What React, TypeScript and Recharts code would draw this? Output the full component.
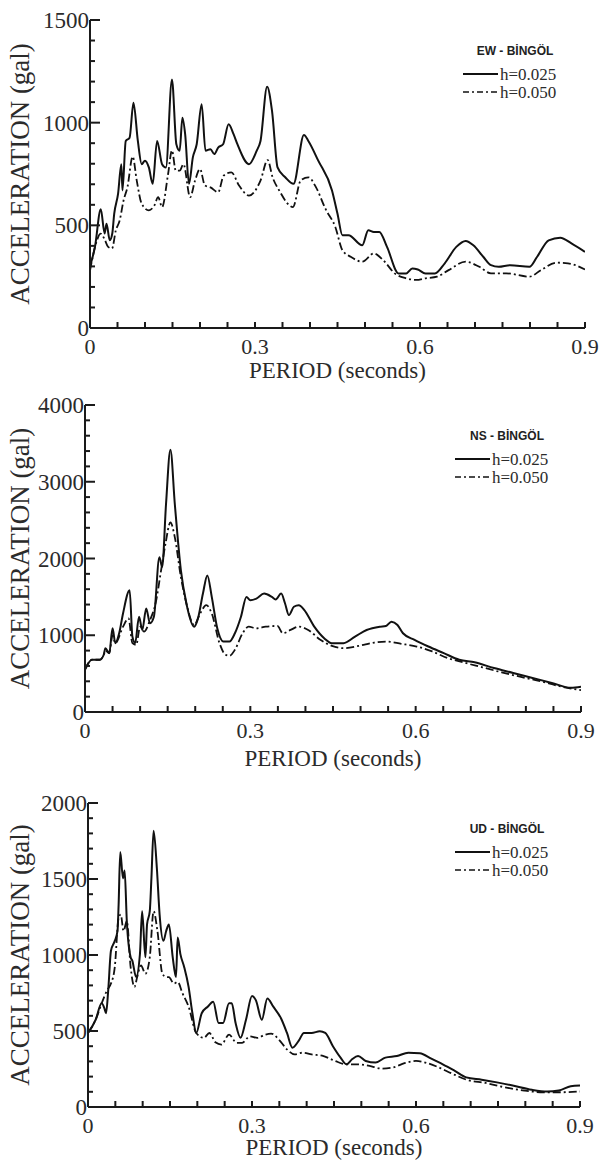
import React from 'react';
import { LineChart, Line, XAxis, YAxis } from 'recharts';

// period tick marks (seconds), labelled ones every 0.3
const periodTicks = [0, 0.05, 0.1, 0.15, 0.2, 0.25, 0.3, 0.35, 0.4, 0.45, 0.5, 0.55, 0.6, 0.65, 0.7, 0.75, 0.8, 0.85, 0.9];
const periodLabels = [0, 0.3, 0.6, 0.9];

const ewTicks = [0, 100, 200, 300, 400, 500, 600, 700, 800, 900, 1000, 1100, 1200, 1300, 1400, 1500];
const ewLabels = [0, 500, 1000, 1500];
const nsTicks = [0, 200, 400, 600, 800, 1000, 1200, 1400, 1600, 1800, 2000, 2200, 2400, 2600, 2800, 3000, 3200, 3400, 3600, 3800, 4000];
const nsLabels = [0, 1000, 2000, 3000, 4000];
const udTicks = [0, 100, 200, 300, 400, 500, 600, 700, 800, 900, 1000, 1100, 1200, 1300, 1400, 1500, 1600, 1700, 1800, 1900, 2000];
const udLabels = [0, 500, 1000, 1500, 2000];

// EW - h=0.025
const ewT1 = [0, 0.009, 0.0196, 0.0266, 0.03, 0.036, 0.0405, 0.044, 0.051, 0.057, 0.059, 0.065, 0.072, 0.079, 0.087, 0.094, 0.1, 0.107, 0.114, 0.122, 0.131, 0.138, 0.149, 0.157, 0.163, 0.168, 0.173, 0.18, 0.187, 0.194, 0.203, 0.21, 0.219, 0.226, 0.233, 0.242, 0.252, 0.261, 0.268, 0.289, 0.303, 0.31, 0.322, 0.331, 0.341, 0.355, 0.37, 0.389, 0.397, 0.415, 0.44, 0.45, 0.459, 0.47, 0.495, 0.506, 0.516, 0.526, 0.54, 0.561, 0.575, 0.586, 0.596, 0.61, 0.627, 0.645, 0.666, 0.683, 0.697, 0.715, 0.729, 0.743, 0.764, 0.799, 0.813, 0.834, 0.855, 0.876, 0.9];
const ewA1 = [300, 395, 578, 460, 508, 427, 460, 556, 653, 798, 670, 911, 927, 1097, 911, 798, 815, 782, 702, 911, 798, 782, 1210, 895, 863, 1024, 944, 702, 831, 895, 1090, 863, 871, 847, 879, 895, 992, 944, 895, 798, 863, 911, 1175, 1056, 782, 734, 702, 940, 911, 815, 670, 556, 452, 452, 403, 476, 468, 468, 395, 266, 266, 290, 285, 266, 266, 315, 395, 424, 403, 347, 306, 298, 306, 298, 347, 427, 440, 411, 371];
// EW - h=0.050
const ewT2 = [0, 0.0126, 0.019, 0.026, 0.033, 0.04, 0.047, 0.054, 0.061, 0.068, 0.0776, 0.085, 0.094, 0.107, 0.117, 0.124, 0.131, 0.142, 0.149, 0.156, 0.163, 0.17, 0.182, 0.191, 0.2, 0.209, 0.219, 0.233, 0.243, 0.257, 0.271, 0.289, 0.31, 0.323, 0.332, 0.344, 0.369, 0.383, 0.397, 0.411, 0.428, 0.446, 0.459, 0.474, 0.495, 0.516, 0.533, 0.554, 0.575, 0.593, 0.61, 0.631, 0.652, 0.683, 0.708, 0.729, 0.757, 0.799, 0.82, 0.848, 0.869, 0.9];
const ewA2 = [280, 427, 460, 435, 395, 387, 476, 524, 621, 685, 835, 718, 605, 573, 597, 637, 589, 750, 865, 766, 766, 798, 637, 718, 774, 694, 685, 661, 742, 758, 694, 645, 718, 818, 734, 670, 589, 718, 734, 685, 581, 492, 379, 347, 323, 363, 331, 266, 242, 234, 242, 250, 282, 323, 298, 266, 266, 250, 282, 318, 315, 285];

// NS - h=0.025
const nsT1 = [0, 0.0126, 0.027, 0.034, 0.037, 0.044, 0.05, 0.055, 0.062, 0.069, 0.081, 0.086, 0.091, 0.098, 0.104, 0.111, 0.118, 0.125, 0.135, 0.14, 0.147, 0.155, 0.163, 0.174, 0.184, 0.198, 0.205, 0.214, 0.222, 0.23, 0.24, 0.251, 0.262, 0.272, 0.283, 0.293, 0.3, 0.311, 0.325, 0.339, 0.346, 0.356, 0.363, 0.37, 0.379, 0.388, 0.398, 0.416, 0.434, 0.448, 0.469, 0.49, 0.511, 0.535, 0.546, 0.556, 0.567, 0.577, 0.598, 0.623, 0.651, 0.679, 0.707, 0.742, 0.777, 0.812, 0.847, 0.882, 0.9];
const nsA1 = [552, 681, 681, 746, 832, 767, 1090, 897, 1026, 1284, 1586, 983, 897, 1241, 1069, 1349, 1155, 1241, 2017, 1888, 2707, 3418, 2707, 1845, 1414, 1112, 1220, 1543, 1780, 1500, 1090, 918, 918, 1026, 1241, 1500, 1457, 1478, 1543, 1500, 1466, 1543, 1414, 1263, 1371, 1392, 1328, 1112, 961, 897, 897, 983, 1069, 1112, 1121, 1177, 1134, 1026, 940, 853, 767, 681, 647, 573, 509, 444, 379, 315, 330];
// NS - h=0.050
const nsT2 = [0, 0.0126, 0.027, 0.034, 0.037, 0.044, 0.05, 0.055, 0.069, 0.079, 0.086, 0.093, 0.1, 0.107, 0.118, 0.128, 0.139, 0.146, 0.155, 0.163, 0.174, 0.184, 0.198, 0.209, 0.22, 0.23, 0.244, 0.255, 0.262, 0.272, 0.286, 0.297, 0.311, 0.328, 0.349, 0.359, 0.373, 0.388, 0.405, 0.427, 0.448, 0.469, 0.497, 0.525, 0.546, 0.574, 0.602, 0.63, 0.658, 0.686, 0.721, 0.756, 0.791, 0.826, 0.861, 0.9];
const nsA2 = [552, 681, 681, 746, 800, 767, 1000, 897, 1112, 1220, 897, 875, 1112, 1047, 1198, 1414, 1888, 2190, 2470, 2276, 1759, 1414, 1134, 1284, 1392, 1284, 897, 746, 733, 810, 1026, 1112, 1090, 1112, 1121, 1026, 1069, 1112, 1069, 940, 862, 832, 862, 905, 918, 888, 853, 789, 703, 647, 582, 517, 457, 401, 336, 284];

// UD - h=0.025
const udT1 = [0, 0.014, 0.025, 0.03, 0.033, 0.037, 0.042, 0.049, 0.054, 0.056, 0.059, 0.064, 0.067, 0.071, 0.078, 0.081, 0.088, 0.095, 0.099, 0.105, 0.108, 0.113, 0.116, 0.12, 0.126, 0.131, 0.138, 0.143, 0.148, 0.155, 0.161, 0.164, 0.169, 0.176, 0.184, 0.191, 0.198, 0.208, 0.219, 0.229, 0.239, 0.247, 0.258, 0.263, 0.27, 0.279, 0.289, 0.3, 0.307, 0.318, 0.328, 0.339, 0.353, 0.364, 0.374, 0.385, 0.395, 0.409, 0.424, 0.434, 0.448, 0.462, 0.473, 0.483, 0.494, 0.508, 0.526, 0.544, 0.565, 0.586, 0.607, 0.628, 0.649, 0.671, 0.692, 0.72, 0.748, 0.777, 0.812, 0.84, 0.861, 0.883, 0.9];
const udA1 = [487, 574, 682, 649, 617, 768, 1028, 1093, 1158, 1331, 1677, 1504, 1556, 1223, 985, 963, 855, 1006, 1288, 985, 1201, 1288, 1504, 1818, 1569, 1266, 1093, 1158, 1201, 985, 855, 1115, 1006, 920, 790, 617, 487, 617, 660, 693, 552, 552, 682, 682, 552, 455, 574, 730, 703, 574, 714, 660, 584, 487, 390, 433, 487, 487, 498, 487, 400, 325, 281, 314, 335, 303, 292, 325, 335, 357, 353, 318, 281, 238, 195, 180, 162, 141, 113, 102, 108, 136, 141];
// UD - h=0.050
const udT2 = [0, 0.014, 0.025, 0.035, 0.042, 0.049, 0.056, 0.06, 0.065, 0.071, 0.078, 0.085, 0.09, 0.097, 0.105, 0.113, 0.12, 0.127, 0.136, 0.143, 0.148, 0.157, 0.164, 0.173, 0.184, 0.198, 0.212, 0.222, 0.233, 0.244, 0.258, 0.272, 0.282, 0.296, 0.31, 0.324, 0.335, 0.349, 0.364, 0.378, 0.392, 0.409, 0.431, 0.452, 0.473, 0.494, 0.515, 0.536, 0.558, 0.579, 0.6, 0.621, 0.642, 0.664, 0.692, 0.727, 0.762, 0.798, 0.833, 0.868, 0.9];
const udA2 = [487, 574, 682, 768, 812, 920, 1245, 1266, 1158, 1223, 920, 790, 855, 931, 877, 985, 1288, 1158, 877, 855, 855, 812, 823, 747, 660, 487, 455, 487, 426, 411, 476, 422, 422, 465, 455, 476, 483, 444, 379, 346, 357, 346, 335, 303, 281, 281, 271, 253, 260, 288, 303, 288, 260, 223, 180, 158, 130, 108, 97, 97, 102];

const zip = (t: number[], a: number[]) => t.map((p, i) => ({ period: p, accel: a[i] }));

const serif = '"Liberation Serif", "Times New Roman", serif';
const sans = '"Liberation Sans", Arial, sans-serif';
const ink = '#1a1a1a';
const textInk = '#2b2b2b';

const makeXTick = () => (props: any) => {
  const { x, y, payload } = props;
  const v = payload.value;
  const major = periodLabels.includes(v);
  return (
    <g>
      <line x1={x} y1={y} x2={x} y2={y - 6} stroke={ink} strokeWidth={2} />
      {major && (
        <text x={x} y={y + 26} textAnchor="middle" fontFamily={serif} fontSize={22} fill={textInk}>
          {String(v)}
        </text>
      )}
    </g>
  );
};

const makeYTick = (labels: number[]) => (props: any) => {
  const { x, y, payload } = props;
  const v = payload.value;
  const major = labels.includes(v);
  return (
    <g>
      <line x1={x} y1={y} x2={x + (major ? 10 : 5)} y2={y} stroke={ink} strokeWidth={2} />
      {major && (
        <text x={x - 1} y={y + 8} textAnchor="end" fontFamily={serif} fontSize={23} fill={textInk}>
          {String(v)}
        </text>
      )}
    </g>
  );
};

type PanelProps = {
  top: number;
  height: number;
  plotTop: number;
  axisY: number;
  left: number;
  right: number;
  yMax: number;
  yTicks: number[];
  yLabels: number[];
  solid: { period: number; accel: number }[];
  dashed: { period: number; accel: number }[];
  titleGap: number;
};

const Panel = (p: PanelProps) => {
  const xAxisH = p.top + p.height - p.axisY;
  return (
    <div style={{ position: 'absolute', left: 0, top: p.top }}>
      <LineChart
        width={602}
        height={p.height}
        margin={{ top: p.plotTop - p.top, right: 602 - p.right, left: 0, bottom: 0 }}
      >
        <XAxis
          dataKey="period"
          type="number"
          domain={[0, 0.9]}
          ticks={periodTicks}
          interval={0}
          height={xAxisH}
          tickSize={0}
          tickMargin={0}
          tickLine={false}
          axisLine={{ stroke: ink, strokeWidth: 2 }}
          tick={makeXTick()}
          allowDataOverflow
          label={{
            value: 'PERIOD (seconds)',
            position: 'insideTop',
            offset: p.titleGap,
            style: { fontFamily: serif, fontSize: 23, fill: textInk },
          }}
        />
        <YAxis
          type="number"
          domain={[0, p.yMax]}
          ticks={p.yTicks}
          interval={0}
          width={p.left}
          tickSize={0}
          tickMargin={0}
          tickLine={false}
          axisLine={{ stroke: ink, strokeWidth: 2 }}
          tick={makeYTick(p.yLabels)}
          allowDataOverflow
          label={{
            value: 'ACCELERATION (gal)',
            angle: -90,
            position: 'insideLeft',
            offset: 19,
            style: { fontFamily: serif, fontSize: 27, fill: textInk, textAnchor: 'middle' },
          }}
        />
        <Line
          data={p.solid}
          dataKey="accel"
          type="monotone"
          stroke="#111"
          strokeWidth={2}
          dot={false}
          isAnimationActive={false}
        />
        <Line
          data={p.dashed}
          dataKey="accel"
          type="monotone"
          stroke="#111"
          strokeWidth={1.8}
          strokeDasharray="8 3 2 3"
          dot={false}
          isAnimationActive={false}
        />
      </LineChart>
    </div>
  );
};

const LegendBox = ({ title, x, y }: { title: string; x: number; y: number }) => (
  <g>
    <text x={x + 52} y={y} textAnchor="middle" dominantBaseline="central" fontFamily={sans} fontWeight="bold" fontSize={12} fill="#222">
      {title}
    </text>
    <line x1={x} y1={y + 23} x2={x + 35} y2={y + 23} stroke="#111" strokeWidth={2} />
    <text x={x + 37} y={y + 23} dominantBaseline="central" fontFamily={serif} fontSize={17} fill={textInk}>
      h=0.025
    </text>
    <line x1={x} y1={y + 41} x2={x + 35} y2={y + 41} stroke="#111" strokeWidth={1.6} strokeDasharray="6 3 2 3" />
    <text x={x + 37} y={y + 41} dominantBaseline="central" fontFamily={serif} fontSize={17} fill={textInk}>
      h=0.050
    </text>
  </g>
);

export default function App() {
  return (
    <div style={{ position: 'absolute', left: 0, top: 0, width: 602, height: 1160, background: '#fff', overflow: 'hidden' }}>
      <Panel top={0} height={392} plotTop={20} axisY={328} left={90} right={585} yMax={1500} yTicks={ewTicks} yLabels={ewLabels} solid={zip(ewT1, ewA1)} dashed={zip(ewT2, ewA2)} titleGap={34} />
      <Panel top={392} height={390} plotTop={405} axisY={712} left={85} right={581} yMax={4000} yTicks={nsTicks} yLabels={nsLabels} solid={zip(nsT1, nsA1)} dashed={zip(nsT2, nsA2)} titleGap={38} />
      <Panel top={782} height={378} plotTop={803} axisY={1107} left={88} right={580} yMax={2000} yTicks={udTicks} yLabels={udLabels} solid={zip(udT1, udA1)} dashed={zip(udT2, udA2)} titleGap={32} />
      <svg width={602} height={1160} style={{ position: 'absolute', left: 0, top: 0, pointerEvents: 'none' }}>
        <LegendBox title="EW - BİNGÖL" x={463} y={51} />
        <LegendBox title="NS - BİNGÖL" x={455} y={436} />
        <LegendBox title="UD - BİNGÖL" x={455} y={829} />
      </svg>
    </div>
  );
}
